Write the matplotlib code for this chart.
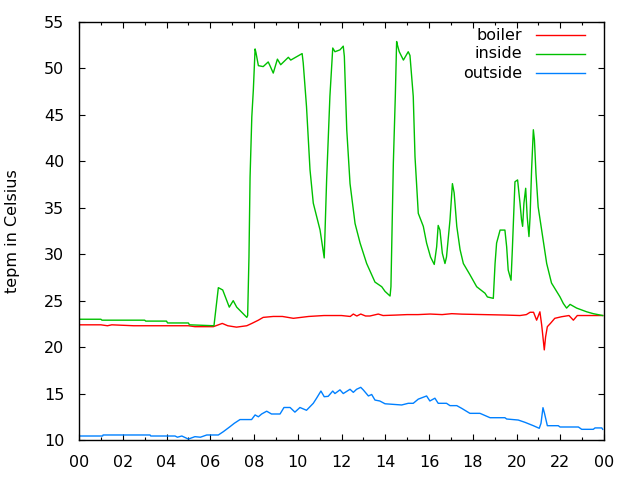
import matplotlib
matplotlib.use("Agg")
import matplotlib.pyplot as plt
from matplotlib.ticker import MultipleLocator

# time in hours of day, values in Celsius
boiler_t = [0.0, 1.0, 1.3, 1.5, 2.5, 3.0, 4.0, 5.0, 5.3, 6.14, 6.55, 6.8, 7.2, 7.67, 7.9,
            8.2, 8.42, 8.88, 9.3, 9.8, 10.5, 11.2, 12.0, 12.4, 12.54, 12.7, 12.88, 13.1,
            13.3, 13.68, 13.9, 14.5, 15.0, 15.5, 16.05, 16.6, 17.04, 17.5, 18.5, 19.5,
            20.16, 20.45, 20.62, 20.78, 20.92, 21.07, 21.15, 21.2, 21.27, 21.33, 21.41,
            21.55, 21.75, 22.06, 22.4, 22.6, 22.78, 23.2, 23.94]
boiler_v = [22.4, 22.4, 22.3, 22.4, 22.3, 22.3, 22.3, 22.3, 22.2, 22.2, 22.55, 22.3, 22.15,
            22.3, 22.55, 22.9, 23.2, 23.3, 23.3, 23.1, 23.3, 23.4, 23.4, 23.3, 23.56,
            23.35, 23.56, 23.35, 23.35, 23.56, 23.4, 23.45, 23.5, 23.5, 23.56, 23.5,
            23.6, 23.55, 23.5, 23.45, 23.4, 23.5, 23.75, 23.75, 22.9, 23.8, 22.4, 21.3,
            19.7, 21.1, 22.2, 22.55, 23.1, 23.27, 23.4, 22.9, 23.4, 23.4, 23.4]

inside_t = [0.0, 1.0, 1.05, 3.0, 3.05, 4.0, 4.05, 5.0, 5.05, 6.17, 6.37, 6.57, 6.87, 7.05,
            7.21, 7.67, 7.71, 7.77, 7.82, 7.9, 7.97, 8.05, 8.09, 8.2, 8.42, 8.65, 8.73,
            8.88, 9.07, 9.22, 9.57, 9.68, 10.2, 10.25, 10.4, 10.56, 10.71, 11.02, 11.21,
            11.32, 11.47, 11.6, 11.7, 11.93, 12.08, 12.13, 12.24, 12.39, 12.62, 12.85,
            13.15, 13.53, 13.84, 13.99, 14.22, 14.26, 14.37, 14.46, 14.52, 14.56, 14.64,
            14.83, 15.05, 15.13, 15.28, 15.36, 15.51, 15.74, 15.89, 16.07, 16.24, 16.35,
            16.42, 16.5, 16.61, 16.73, 16.8, 16.96, 17.07, 17.15, 17.27, 17.42, 17.57,
            17.87, 18.18, 18.56, 18.67, 18.94, 19.02, 19.09, 19.25, 19.47, 19.55, 19.62,
            19.75, 19.81, 19.93, 20.05, 20.16, 20.23, 20.28, 20.34, 20.42, 20.49, 20.57,
            20.62, 20.69, 20.77, 20.82, 20.89, 20.99, 21.15, 21.38, 21.6, 21.99, 22.14,
            22.29, 22.45, 22.75, 23.21, 23.51, 23.94]
inside_v = [23.0, 23.0, 22.9, 22.9, 22.8, 22.8, 22.6, 22.6, 22.4, 22.3, 26.4, 26.15, 24.3,
            25.0, 24.3, 23.2, 23.4, 29.7, 38.3, 44.8, 47.7, 52.1, 51.7, 50.3, 50.2, 50.7,
            50.3, 49.5, 51.0, 50.4, 51.2, 50.9, 51.6, 50.6, 45.9, 39.1, 35.5, 32.6, 29.6,
            38.0, 47.0, 52.2, 51.8, 52.0, 52.4, 51.3, 43.4, 37.6, 33.3, 31.2, 29.0, 27.0,
            26.5, 26.0, 25.5, 26.5, 39.8, 47.0, 52.9, 52.5, 51.8, 50.9, 51.8, 51.4, 47.0,
            40.5, 34.4, 33.0, 31.2, 29.7, 28.9, 30.8, 33.1, 32.6, 30.1, 29.0, 29.7, 33.7,
            37.6, 36.6, 33.0, 30.5, 29.0, 27.8, 26.5, 25.8, 25.4, 25.25, 29.0, 31.2, 32.6,
            32.6, 30.8, 28.3, 27.2, 30.5, 37.8, 38.0, 35.5, 33.7, 33.0, 35.5, 37.1, 34.0,
            31.9, 34.0, 39.1, 43.4, 42.3, 38.7, 35.1, 32.6, 29.0, 26.9, 25.4, 24.7, 24.2,
            24.6, 24.2, 23.8, 23.6, 23.4]

outside_t = [0.0, 1.08, 1.1, 3.25, 3.28, 4.39, 4.5, 4.7, 5.0, 5.3, 5.55, 5.84, 6.37, 6.6,
             6.9, 7.1, 7.36, 7.89, 8.05, 8.2, 8.35, 8.58, 8.8, 9.19, 9.37, 9.65, 9.87,
             10.1, 10.4, 10.71, 10.86, 11.06, 11.21, 11.39, 11.6, 11.7, 11.93, 12.08,
             12.39, 12.54, 12.69, 12.88, 13.0, 13.23, 13.38, 13.53, 13.75, 13.99, 14.75,
             15.05, 15.28, 15.51, 15.89, 16.04, 16.27, 16.42, 16.8, 16.96, 17.27, 17.5,
             17.87, 18.33, 18.79, 19.47, 19.55, 20.08, 20.39, 20.77, 21.04, 21.12, 21.21,
             21.28, 21.41, 21.91, 21.99, 22.83, 22.98, 23.51, 23.59, 23.9, 23.94]
outside_v = [10.43, 10.43, 10.54, 10.54, 10.43, 10.43, 10.3, 10.43, 10.1, 10.36, 10.3,
             10.54, 10.54, 10.9, 11.43, 11.8, 12.2, 12.2, 12.7, 12.5, 12.8, 13.1, 12.8,
             12.8, 13.5, 13.5, 13.0, 13.5, 13.2, 13.95, 14.5, 15.27, 14.66, 14.7, 15.27,
             15.0, 15.4, 15.0, 15.46, 15.13, 15.46, 15.67, 15.38, 14.74, 14.9, 14.3, 14.2,
             13.9, 13.77, 13.95, 13.95, 14.4, 14.74, 14.2, 14.5, 13.95, 13.95, 13.7, 13.7,
             13.4, 12.87, 12.87, 12.4, 12.4, 12.26, 12.15, 11.9, 11.54, 11.26, 11.8, 13.48,
             12.87, 11.54, 11.54, 11.4, 11.4, 11.15, 11.15, 11.3, 11.3, 11.15]

x_ticks = list(range(0, 25, 2))
x_tick_labels = ["00", "02", "04", "06", "08", "10", "12", "14", "16", "18", "20", "22", "00"]

plt.rcParams['font.family'] = ['DejaVu Sans']
fig = plt.figure(figsize=(6.4, 4.8), dpi=100)
ax = fig.add_axes([79/640, 1 - 440/480, (604 - 79)/640, (440 - 22)/480])

lw = 1.0
ax.plot(boiler_t, boiler_v, color='#ff0000', lw=lw)
ax.plot(inside_t, inside_v, color='#00c000', lw=lw)
ax.plot(outside_t, outside_v, color='#0080ff', lw=lw)

ax.set_xlim(0, 24)
ax.set_ylim(10, 55)
ax.set_xticks(x_ticks)
ax.set_xticklabels(x_tick_labels)
ax.xaxis.set_minor_locator(MultipleLocator(1))
ax.yaxis.set_major_locator(MultipleLocator(5))
ax.tick_params(which='major', direction='in', length=4.5, width=0.8, top=True, right=True,
               labelsize=11.5, color='black')
ax.tick_params(axis='x', which='major', pad=10.5)
ax.tick_params(axis='y', which='major', pad=10.5)
ax.tick_params(which='minor', direction='in', length=2.2, width=0.8, top=True, right=True)
ax.tick_params(axis='y', which='minor', left=False, right=False)
for s in ax.spines.values():
    s.set_linewidth(1.0)
ax.set_ylabel("tepm in Celsius", fontsize=11.5, labelpad=17)

# legend (gnuplot style: text right-aligned, sample line to the right)
names = ["boiler", "inside", "outside"]
cols = ['#ff0000', '#00c000', '#0080ff']
ys_px = [35, 54, 73]
for n, c, yp in zip(names, cols, ys_px):
    yf = 1 - yp / 480
    fig.text(522/640, yf, n, ha='right', va='center', fontsize=11.5)
    fig.add_artist(plt.Line2D([536/640, 585/640], [yf, yf], color=c, lw=lw))

fig.savefig("out.png", dpi=100)
